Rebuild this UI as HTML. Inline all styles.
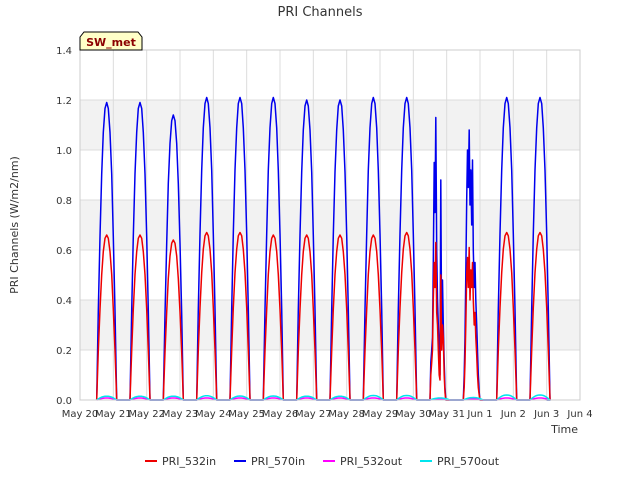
<!DOCTYPE html>
<html><head><meta charset="utf-8"><style>
body{margin:0;background:#fff;font-family:"Liberation Sans","DejaVu Sans",sans-serif}
</style></head><body>
<svg id="chart" width="640" height="480" xmlns="http://www.w3.org/2000/svg" font-family="DejaVu Sans, Liberation Sans, sans-serif">
<g id="bands"></g><g id="grid"></g><g id="series"></g><g id="axes"></g>
</svg>
<script>
const dayTicks=["May 20","May 21","May 22","May 23","May 24","May 25","May 26","May 27","May 28","May 29","May 30","May 31","Jun 1","Jun 2","Jun 3","Jun 4"];
const yTicks=[0,0.2,0.4,0.6,0.8,1.0,1.2,1.4];
const profileOffsets=[0.5,0.55,0.6,0.65,0.7,0.75,0.8,0.85,0.9,0.95,1.0,1.05,1.1];
const profileShape=[0,0.3,0.55,0.76,0.9,0.98,1,0.98,0.9,0.76,0.55,0.3,0];
const peaks570in=[1.19,1.19,1.14,1.21,1.21,1.21,1.20,1.20,1.21,1.21,1.13,1.09,1.21,1.21];
const peaks532in=[0.66,0.66,0.64,0.67,0.67,0.66,0.66,0.66,0.66,0.67,0.63,0.6,0.67,0.67];
const peaks532out=[0.008,0.008,0.008,0.008,0.008,0.008,0.008,0.008,0.008,0.008,0.005,0.005,0.008,0.008];
const peaks570out=[0.015,0.015,0.015,0.017,0.016,0.016,0.015,0.015,0.018,0.018,0.008,0.01,0.02,0.02];
const denseOffsets=[0.5,0.525,0.55,0.575,0.6,0.625,0.65,0.675,0.7,0.725,0.75,0.775,0.8,0.825,0.85,0.875,0.9,0.925,0.95,0.975,1.0,1.025,1.05,1.075,1.1];
const day10_570in=[0,0.15,0.2,0.25,0.55,0.95,0.75,1.13,0.6,0.4,0.3,0.2,0.1,0.88,0.2,0.48,0.3,0.15,0.05,0,0,0,0,0,0];
const day10_532in=[0,0.1,0.15,0.2,0.4,0.55,0.45,0.63,0.35,0.3,0.2,0.1,0.08,0.5,0.2,0.3,0.25,0.1,0.03,0,0,0,0,0,0];
const day11_570in=[0,0.1,0.25,0.5,0.8,1.0,0.85,1.08,0.78,0.92,0.7,0.96,0.6,0.45,0.55,0.4,0.3,0.2,0.1,0.03,0,0,0,0,0];
const day11_532in=[0,0.05,0.15,0.3,0.5,0.57,0.45,0.61,0.4,0.52,0.45,0.55,0.4,0.3,0.35,0.25,0.18,0.1,0.05,0.02,0,0,0,0,0];
const X0=80,X1=580,Y0=400,Y1=50;
const xs=d=>X0+d*(X1-X0)/15;
const ys=v=>Y0-v*(Y0-Y1)/1.4;
const NS="http://www.w3.org/2000/svg";
function mk(tag,attrs,parent,txt){const e=document.createElementNS(NS,tag);for(const k in attrs)e.setAttribute(k,attrs[k]);if(txt!==undefined)e.textContent=txt;document.getElementById(parent)?document.getElementById(parent).appendChild(e):parent.appendChild(e);return e;}
const svg=document.getElementById('chart');
// bands
for(let i=0;i<yTicks.length-1;i++){if(i%2===1){const r=mk('rect',{x:X0,y:ys(yTicks[i+1]),width:X1-X0,height:ys(yTicks[i])-ys(yTicks[i+1]),fill:'#f2f2f2'},'bands');

}}
yTicks.forEach(v=>{const l=mk('line',{x1:X0,x2:X1,y1:ys(v),y2:ys(v),stroke:'#dcdcdc','stroke-width':1},'grid');


const t=mk('text',{x:X0-8,y:ys(v)+4,'text-anchor':'end','font-size':10,fill:'#333'},'axes',v.toFixed(1));

});
dayTicks.forEach((lab,i)=>{const l=mk('line',{x1:xs(i),x2:xs(i),y1:Y1,y2:Y0,stroke:'#dcdcdc','stroke-width':1},'grid');


const t=mk('text',{x:xs(i),y:Y0+17,'text-anchor':'middle','font-size':10,fill:'#333'},'axes',lab);

});
const fr=mk('rect',{x:X0,y:Y1,width:X1-X0,height:Y0-Y1,fill:'none',stroke:'#ccc'},'axes');


function buildPts(peaks,overrides){let pts=[];for(let d=0;d<peaks.length;d++){if(overrides&&overrides[d]){denseOffsets.forEach((o,k)=>pts.push([xs(d+o),ys(overrides[d][k])]));}else{profileOffsets.forEach((o,k)=>pts.push([xs(d+o),ys(peaks[d]*profileShape[k])]));}}
pts.unshift([xs(0.5),ys(0)]);pts.push([xs(14),ys(0)]);return pts.map(p=>p[0].toFixed(1)+','+p[1].toFixed(1)).join(' ');}
const seriesDefs=[
 ['PRI_570out',peaks570out,null,'#00e5ee','series-pri-570out'],
 ['PRI_532out',peaks532out,null,'#ff00ff','series-pri-532out'],
 ['PRI_570in',peaks570in,{10:day10_570in,11:day11_570in},'#0000ee','series-pri-570in'],
 ['PRI_532in',peaks532in,{10:day10_532in,11:day11_532in},'#ee0000','series-pri-532in']];
[seriesDefs[2],seriesDefs[3],seriesDefs[1],seriesDefs[0]].forEach(s=>{const p=mk('polyline',{points:buildPts(s[1],s[2]),fill:'none',stroke:s[3],'stroke-width':1.5,'stroke-linejoin':'round'},'series');

});
const tt=mk('text',{x:320,y:16,'text-anchor':'middle','font-size':13,fill:'#333'},'axes','PRI Channels');


const yl=mk('text',{x:0,y:0,transform:'translate(18,225) rotate(-90)','text-anchor':'middle','font-size':11,fill:'#333'},'axes','PRI Channels (W/m2/nm)');


const xl=mk('text',{x:578,y:433,'text-anchor':'end','font-size':11,fill:'#333'},'axes','Time');


const badge=mk('g',{},'axes');


mk('path',{d:'M80,50 L80,37 L84,32 L138,32 L142,37 L142,50 Z',fill:'#ffffc8',stroke:'#000','stroke-width':1},badge);
mk('text',{x:111,y:46,'text-anchor':'middle','font-size':11,'font-weight':'bold',fill:'#8b0000'},badge,'SW_met');
const leg=[['PRI_532in','#ee0000',145],['PRI_570in','#0000ee',234],['PRI_532out','#ff00ff',323],['PRI_570out','#00e5ee',420]];
leg.forEach(l=>{const g=mk('g',{},'axes');


mk('line',{x1:l[2],x2:l[2]+12,y1:461,y2:461,stroke:l[1],'stroke-width':2},g);
mk('text',{x:l[2]+17,y:465,'font-size':11,fill:'#333'},g,l[0]);});
</script>
</body></html>
